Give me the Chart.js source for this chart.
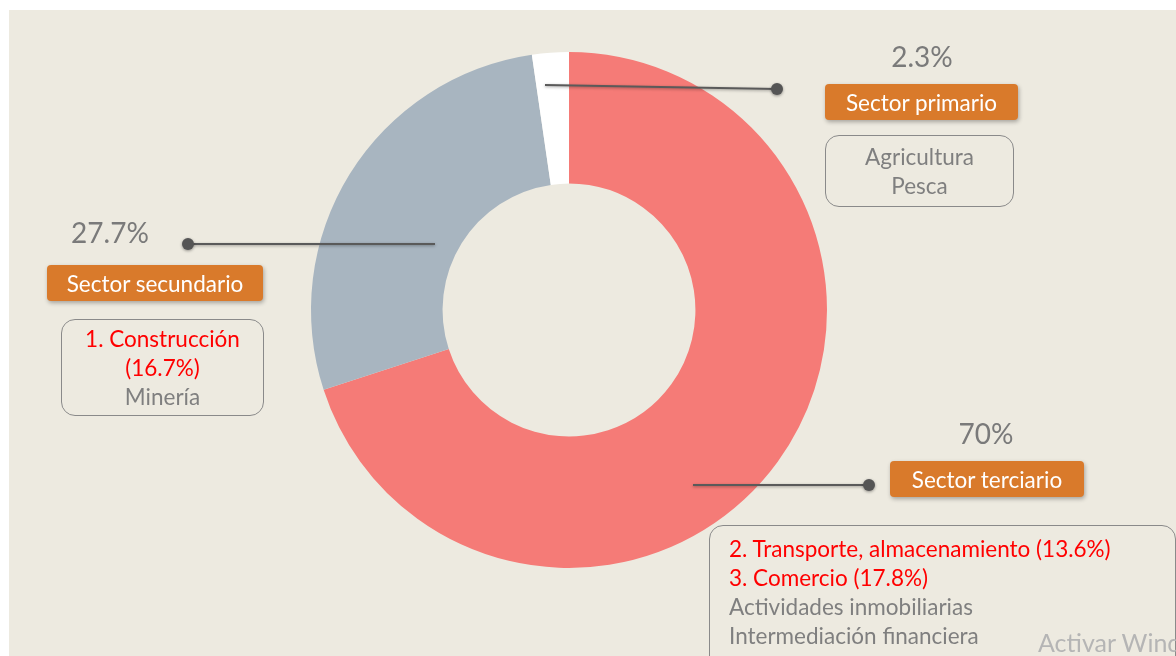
<!DOCTYPE html>
<html>
<head>
<meta charset="utf-8">
<script src="https://cdn.jsdelivr.net/npm/chart.js@4/dist/chart.umd.min.js"></script>
<style>
  html, body { margin: 0; padding: 0; background: #ffffff; }
  body { width: 1176px; height: 656px; position: relative; overflow: hidden; font-family: 'Lato', 'Open Sans', sans-serif; }
  #bg { position: absolute; left: 9px; top: 10px; right: 0; bottom: 0; background: #edeae0; }
  #wrap { position: absolute; left: 0; top: 0; width: 1176px; height: 656px; }
  .pct { position: absolute; color: #7a7a7a; font-size: 28px; line-height: 34px; text-align: center; }
  .tag { position: absolute; background: #d97a2b; color: #fff; font-size: 22.5px; border-radius: 4px;
         box-shadow: 1px 2px 4px rgba(0,0,0,0.3); display: flex; align-items: center; justify-content: center; }
  .box { position: absolute; border: 1.5px solid #8a8a8a; border-radius: 14px; color: #7f7f7f; font-size: 22.5px; line-height: 29px; box-sizing: border-box; }
  .red { color: #ff0000; }
  .lead { position: absolute; height: 2px; background: #5a5a5a; box-shadow: 0 1px 3px rgba(0,0,0,0.35); transform-origin: 0 50%; }
  .dot { position: absolute; width: 12px; height: 12px; border-radius: 50%; background: #555; box-shadow: 0 1px 3px rgba(0,0,0,0.4); }
  .wm { position: absolute; left: 1038px; top: 627px; color: #b5b5b5; font-size: 25px; white-space: nowrap; }
</style>
</head>
<body>
<div id="bg"></div>
<div id="wrap"><canvas id="donut" width="1176" height="656"></canvas></div>

<!-- primario -->
<div class="lead" style="left:545px; top:84px; width:232px; transform: rotate(1deg);"></div>
<div class="dot" style="left:771px; top:83px;"></div>
<div class="pct" style="left:872px; top:39px; width:100px;">2.3%</div>
<div class="tag" style="left:825px; top:84px; width:193px; height:36px;">Sector primario</div>
<div class="box" style="left:825px; top:135px; width:189px; height:72px; text-align:center; padding-top:6px;">Agricultura<br>Pesca</div>

<!-- secundario -->
<div class="lead" style="left:188px; top:243px; width:247px;"></div>
<div class="dot" style="left:182px; top:238px;"></div>
<div class="pct" style="left:60px; top:215px; width:100px;">27.7%</div>
<div class="tag" style="left:47px; top:265px; width:216px; height:36px;">Sector secundario</div>
<div class="box" style="left:61px; top:319px; width:203px; height:97px; text-align:center; padding-top:4px;">
  <span class="red">1. Construcción<br>(16.7%)</span><br>Minería</div>

<!-- terciario -->
<div class="lead" style="left:693px; top:484px; width:176px;"></div>
<div class="dot" style="left:863px; top:479px;"></div>
<div class="pct" style="left:936px; top:416px; width:100px;">70%</div>
<div class="tag" style="left:890px; top:461px; width:194px; height:36px;">Sector terciario</div>
<div class="box" style="left:709px; top:525px; width:467px; height:150px; padding-left:19px; padding-top:8px;">
  <span class="red">2. Transporte, almacenamiento (13.6%)<br>3. Comercio (17.8%)</span><br>Actividades inmobiliarias<br>Intermediación financiera</div>

<div class="wm">Activar Windows</div>

<script>
// sector shares, clockwise from 12 o'clock
const sectors = ['Sector terciario', 'Sector secundario', 'Sector primario'];
const shares = [70, 27.7, 2.3];
const sectorColors = ['#f57b77', '#a8b5c0', '#ffffff'];

const ctx = document.getElementById('donut').getContext('2d');

const donutChart = new Chart(ctx, {
    type: 'doughnut',
    data: {
        labels: sectors,
        datasets: [{
            data: shares,
            backgroundColor: sectorColors,
            borderWidth: 0
        }]
    },
    options: {
        responsive: false,
        animation: false,
        cutout: '49%',
        layout: {
            padding: { left: 311, right: 349, top: 52, bottom: 88 }
        },
        plugins: {
            legend: { display: false },
            tooltip: { enabled: false }
        }
    }
});
</script>
</body>
</html>
